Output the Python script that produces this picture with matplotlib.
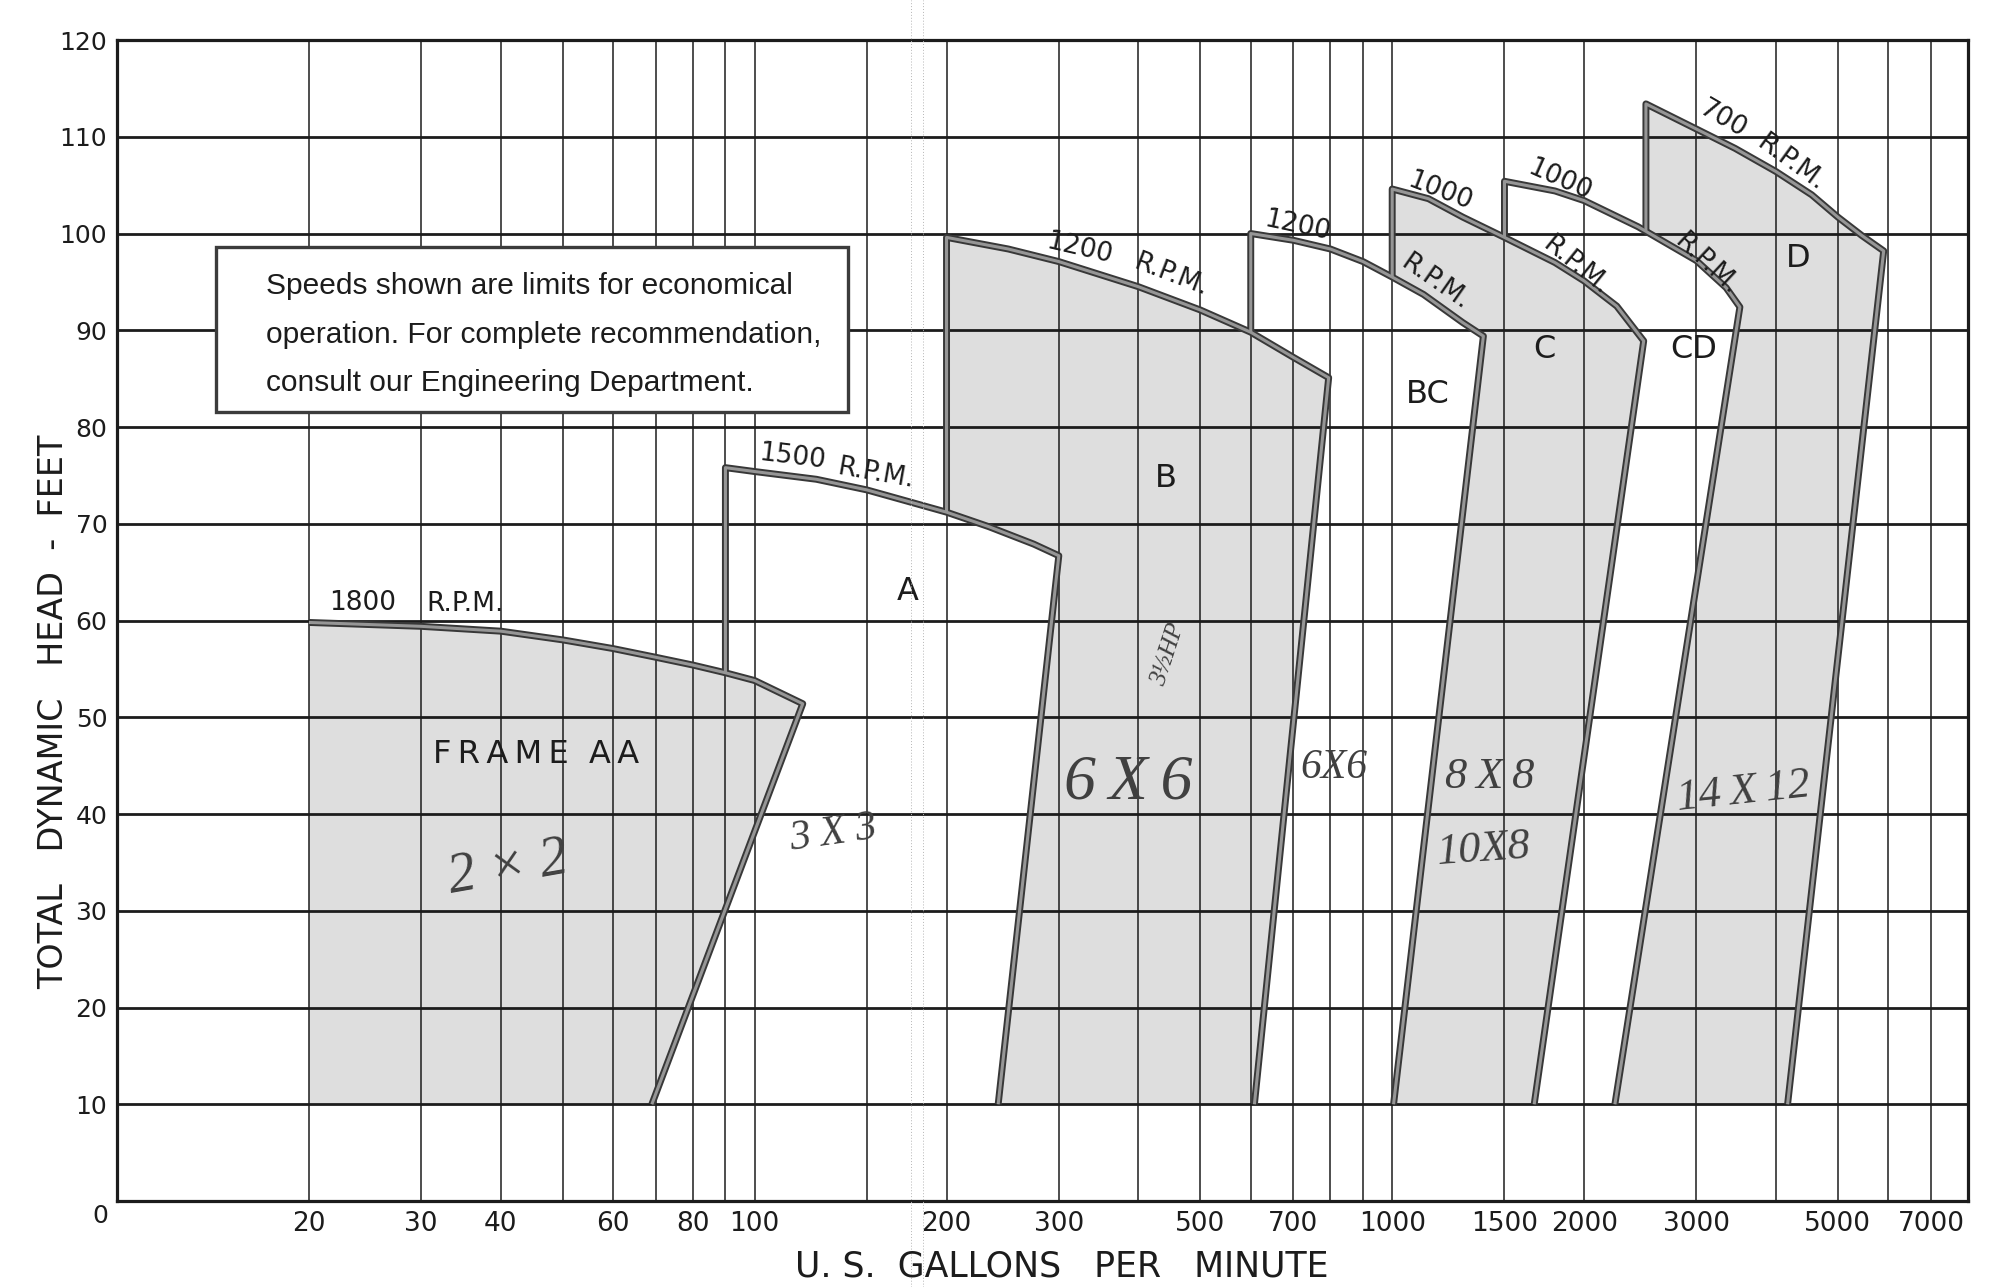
import matplotlib
matplotlib.use("Agg")
import matplotlib.pyplot as plt
from matplotlib.patches import Rectangle
from matplotlib.lines import Line2D
from matplotlib.ticker import NullLocator

# chart grid and tick labels (gallons per minute, log scale; head in feet)
gpm_grid = [20, 30, 40, 50, 60, 70, 80, 90, 100, 150, 200, 300, 400, 500, 600,
            700, 800, 900, 1000, 1500, 2000, 3000, 4000, 5000, 6000, 7000]
head_grid = [10, 20, 30, 40, 50, 60, 70, 80, 90, 100, 110]
x_ticks = [20, 30, 40, 60, 80, 100, 200, 300, 500, 700, 1000, 1500, 2000, 3000, 5000, 7000]
y_ticks = [10, 20, 30, 40, 50, 60, 70, 80, 90, 100, 110, 120]

# frame limits: top curve (gpm, head), foot of the right edge at 10 ft,
# and the head where the left wall meets the previous frame's curve
aa_gpm = [20, 30, 40, 50, 60, 70, 80, 90, 100, 119]
aa_head = [59.8, 59.4, 58.9, 58.0, 57.1, 56.2, 55.4, 54.6, 53.8, 51.4]
aa_foot = 69

a_gpm = [90, 100, 125, 150, 200, 233, 274, 300]
a_head = [75.8, 75.4, 74.6, 73.5, 71.2, 69.7, 67.9, 66.7]
a_foot = 241
a_wall = 54.6

b_gpm = [200, 250, 300, 400, 500, 600, 700, 795]
b_head = [99.6, 98.4, 97.1, 94.5, 92.1, 89.8, 87.2, 85.1]
b_foot = 608
b_wall = 71.2

bc_gpm = [600, 700, 800, 900, 1000, 1120, 1290, 1390]
bc_head = [100.0, 99.3, 98.4, 97.1, 95.5, 93.7, 90.8, 89.4]
bc_foot = 1005
bc_wall = 89.8

c_gpm = [1000, 1140, 1290, 1500, 1800, 2000, 2250, 2480]
c_head = [104.6, 103.6, 101.7, 99.6, 97.0, 95.1, 92.5, 88.9]
c_foot = 1670
c_wall = 95.5

cd_gpm = [1500, 1800, 2000, 2430, 3000, 3340, 3510]
cd_head = [105.4, 104.4, 103.4, 100.7, 97.2, 94.4, 92.4]
cd_foot = 2235
cd_wall = 99.6

d_gpm = [2500, 3000, 3450, 4000, 4550, 5000, 5450, 5900]
d_head = [113.4, 110.8, 108.8, 106.4, 104.0, 101.7, 99.8, 98.2]
d_foot = 4170
d_wall = 100.3

# region letters and speed labels: (text, gpm, head, rotation)
frame_labels = [("F\u2009R\u2009A\u2009M\u2009E  A\u2009A", 45.5, 46.2),
                ("A", 174, 63.0), ("B", 441, 74.7), ("BC", 1136, 83.4),
                ("C", 1733, 88.0), ("CD", 2970, 88.0), ("D", 4330, 97.4)]
rpm_labels = [("1800", 24.3, 61.8, 0), ("R.P.M.", 35.1, 61.7, 0),
              ("1500", 114.5, 76.9, -7), ("R.P.M.", 154.7, 75.2, -10),
              ("1200", 323, 98.4, -13), ("R.P.M.", 450, 95.7, -21),
              ("1200", 710, 100.8, -12), ("R.P.M.", 1169, 94.9, -35),
              ("1000", 1186, 104.3, -21), ("R.P.M.", 1940, 96.6, -39),
              ("1000", 1833, 105.5, -24), ("R.P.M.", 3108, 96.8, -43),
              ("700", 3310, 111.8, -30), ("R.P.M.", 4220, 107.3, -36)]
# pencil notes written on the sheet: (text, gpm, head, size, rotation)
pencil_notes = [("2 \u00d7 2", 41, 34.3, 40, 10), ("3 X 3", 133, 38.0, 30, 8),
                ("6\u2009X\u20096", 385, 43.2, 46, 0), ("6X6", 810, 44.8, 30, 0),
                ("8\u2009X\u20098", 1420, 43.8, 32, 0), ("10X8", 1390, 36.3, 32, 4),
                ("14\u2009X\u200912", 3560, 42.3, 32, 6), ("3\u00bdHP", 445, 56.5, 18, 72)]

note_lines = ["Speeds shown are limits for economical",
              "operation. For complete recommendation,",
              "consult our Engineering Department."]

ink = "#1c1c1c"
shade = "#dedede"
edge_dark = "#383838"
edge_mid = "#969696"

fig = plt.figure(figsize=(20, 12.87), dpi=100)
ax = fig.add_axes([0.0585, 0.0668, 0.9255, 0.9021])
ax.set_xscale("log")
ax.set_xlim(10, 8000)
ax.set_ylim(0, 120)

for g in gpm_grid:
    ax.axvline(g, color=ink, lw=1.1, zorder=1)
for h in head_grid:
    ax.axhline(h, color=ink, lw=2.0, zorder=1)

frames = [
    (aa_gpm, aa_head, aa_foot, None, True),
    (a_gpm, a_head, a_foot, a_wall, False),
    (b_gpm, b_head, b_foot, b_wall, True),
    (bc_gpm, bc_head, bc_foot, bc_wall, False),
    (c_gpm, c_head, c_foot, c_wall, True),
    (cd_gpm, cd_head, cd_foot, cd_wall, False),
    (d_gpm, d_head, d_foot, d_wall, True),
]

# shaded frames: own top and right edge, then back along the previous frame
for i, (gx, hy, foot, wall, shaded) in enumerate(frames):
    if not shaded:
        continue
    if wall is None:
        px = gx + [foot, gx[0]]
        py = hy + [10, 10]
    else:
        qx, qy, qfoot = frames[i - 1][0], frames[i - 1][1], frames[i - 1][2]
        back = [(x, y) for x, y in zip(qx, qy) if x > gx[0]][::-1]
        px = gx + [foot, qfoot] + [p[0] for p in back] + [gx[0]]
        py = hy + [10, 10] + [p[1] for p in back] + [wall]
    ax.fill(px, py, color=shade, lw=0, zorder=0.5)

# outlines of every frame, drawn as a hollow heavy line
for gx, hy, foot, wall, shaded in frames:
    if wall is None:
        lx, ly = gx + [foot], hy + [10]
    else:
        lx, ly = [gx[0]] + gx + [foot], [wall] + hy + [10]
    ax.plot(lx, ly, color=edge_dark, lw=5.0, solid_joinstyle="round",
            solid_capstyle="butt", zorder=3)
    ax.plot(lx, ly, color=edge_mid, lw=2.2, solid_joinstyle="round",
            solid_capstyle="butt", zorder=3.1)

for txt, x, y in frame_labels:
    ax.text(x, y, txt, fontsize=23, color=ink, ha="center", va="center", zorder=4)
for txt, x, y, rot in rpm_labels:
    ax.text(x, y, txt, fontsize=19, color=ink, ha="center", va="center",
            rotation=rot, rotation_mode="anchor", zorder=4)
for txt, x, y, size, rot in pencil_notes:
    ax.text(x, y, txt, fontsize=size, color="#404040", family="Liberation Serif",
            style="italic", ha="center", va="center", rotation=rot, zorder=4)

# note box
ax.add_patch(Rectangle((14.3, 81.6), 140 - 14.3, 98.65 - 81.6, facecolor="white",
                       edgecolor="#3c3c3c", lw=2.4, zorder=5))
for k, line in enumerate(note_lines):
    ax.text(17.1, 93.7 - 5.0 * k, line, fontsize=21.5, color=ink,
            family="Liberation Sans", ha="left", va="baseline", zorder=6)

ax.set_xticks(x_ticks)
ax.set_xticklabels([str(v) for v in x_ticks])
ax.xaxis.set_minor_locator(NullLocator())
ax.set_yticks(y_ticks)
ax.set_yticklabels([str(v) for v in y_ticks])
ax.tick_params(axis="x", length=0, pad=7, labelsize=19, labelcolor=ink)
ax.tick_params(axis="y", length=0, pad=7, labelsize=18, labelcolor=ink)
ax.annotate("0", xy=(0, 0), xycoords="axes fraction", xytext=(-6.5, -11),
            textcoords="offset points", ha="right", va="center", fontsize=18, color=ink)
for s in ax.spines.values():
    s.set_linewidth(2.3)
    s.set_color(ink)

fig.text(0.531, 0.0163, "U. S.  GALLONS   PER   MINUTE", fontsize=25, color=ink,
         ha="center", va="center")
fig.text(0.027, 0.447, "TOTAL   DYNAMIC   HEAD  -  FEET", fontsize=24, color=ink,
         ha="center", va="center", rotation=90)

# fold mark of the scanned sheet
for fx in (0.4555, 0.4615):
    fig.add_artist(Line2D([fx, fx], [0, 1], transform=fig.transFigure,
                          color="#b5b5b5", lw=0.7, ls=(0, (1, 2))))

fig.savefig("out.png", dpi=100, facecolor="white")
